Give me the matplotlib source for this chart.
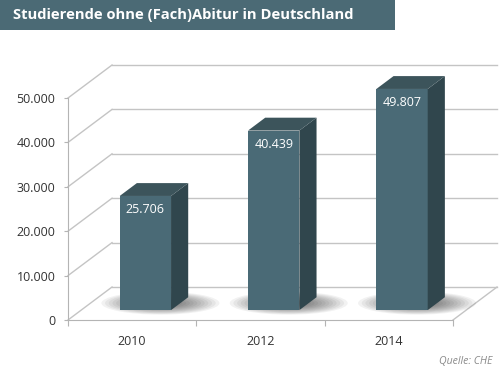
import matplotlib
matplotlib.use('Agg')
import matplotlib.pyplot as plt
from matplotlib.patches import Polygon, Ellipse, Rectangle
from matplotlib.ticker import FuncFormatter

plt.rcParams['font.family'] = ['Open Sans', 'DejaVu Sans']

# data
years = ['2010', '2012', '2014']
values = [25706, 40439, 49807]
labels = ['25.706', '40.439', '49.807']
yticks = [0, 10000, 20000, 30000, 40000, 50000]
title = 'Studierende ohne (Fach)Abitur in Deutschland'
source = 'Quelle: CHE'

# colours
front_c = '#4a6a76'
side_c = '#30464d'
top_c = '#3c545b'
grid_c = '#c4c4c4'

fig = plt.figure(figsize=(5.02, 3.70), dpi=100)
ax = fig.add_axes([68 / 502, 50 / 370, 385 / 502, 222 / 370])
ax.set_xlim(-0.5, 2.5)
ax.set_ylim(0, 50000)

# depth of the 3d box in data units (x and y)
DX = 0.343
DY = 7430
bf = 0.3    # bar front position in the depth
bd = 0.39   # bar depth
bw = 0.4    # bar width

# back wall grid + left wall diagonals
for v in yticks:
    ax.plot([-0.5 + DX, 2.5 + DX], [v + DY, v + DY], color=grid_c, lw=1, clip_on=False, zorder=1)
    ax.plot([-0.5, -0.5 + DX], [v, v + DY], color=grid_c, lw=1, clip_on=False, zorder=1)
# right floor edge
ax.plot([2.5, 2.5 + DX], [0, DY], color=grid_c, lw=1, clip_on=False, zorder=1)

for i, v in enumerate(values):
    # shadow on the floor
    for k in range(16):
        s = 1 - k / 16
        ax.add_patch(Ellipse((i + 0.22, 3800), 0.92 * s, 5200 * s, color='black',
                             alpha=0.05, lw=0, clip_on=False, zorder=2))
    x0 = i - bw / 2 + bf * DX
    x1 = x0 + bw
    y0 = bf * DY
    y1 = v + bf * DY
    ddx = bd * DX
    ddy = bd * DY
    ax.add_patch(Rectangle((x0, y0), bw, v, facecolor=front_c, edgecolor='none',
                           clip_on=False, zorder=3))
    ax.add_patch(Polygon([(x1, y0), (x1, y1), (x1 + ddx, y1 + ddy), (x1 + ddx, y0 + ddy)],
                         closed=True, facecolor=side_c, edgecolor='none', clip_on=False, zorder=3))
    ax.add_patch(Polygon([(x0, y1), (x1, y1), (x1 + ddx, y1 + ddy), (x0 + ddx, y1 + ddy)],
                         closed=True, facecolor=top_c, edgecolor='none', clip_on=False, zorder=3))
    ax.annotate(labels[i], (x0 + bw / 2, y1), xytext=(0, -10), textcoords='offset points',
                ha='center', va='center', color='white', fontsize=9, zorder=4,
                annotation_clip=False)

# axes
for s in ['top', 'right']:
    ax.spines[s].set_visible(False)
for s in ['left', 'bottom']:
    ax.spines[s].set_color('#b4b4b4')
    ax.spines[s].set_zorder(5)
ax.set_yticks(yticks)
ax.yaxis.set_major_formatter(FuncFormatter(lambda v, p: f'{int(v):,}'.replace(',', '.')))
ax.tick_params(axis='y', length=3, color='#b4b4b4', pad=6, labelsize=9, labelcolor='#333333')
ax.set_xticks([-0.5, 0.5, 1.5, 2.5])
ax.set_xticklabels([])
ax.set_xticks([0, 1, 2], minor=True)
ax.set_xticklabels(years, minor=True)
ax.tick_params(axis='x', which='major', length=4, color='#b4b4b4')
ax.tick_params(axis='x', which='minor', length=0, pad=11, labelsize=9, labelcolor='#333333')
ax.set_facecolor('none')

# title box
fig.patches.append(Rectangle((0, 1 - 30 / 370), 395 / 502, 30 / 370, transform=fig.transFigure,
                             facecolor='#4b6a75', edgecolor='none'))
fig.text(13 / 502, 1 - 15 / 370, title, color='white', fontsize=10.6, fontweight='bold',
         ha='left', va='center')
fig.text(492 / 502, 1 - 361 / 370, source, color='#8a8a8a', fontsize=7.6, style='italic',
         ha='right', va='center')

fig.savefig('out.png', dpi=100)
